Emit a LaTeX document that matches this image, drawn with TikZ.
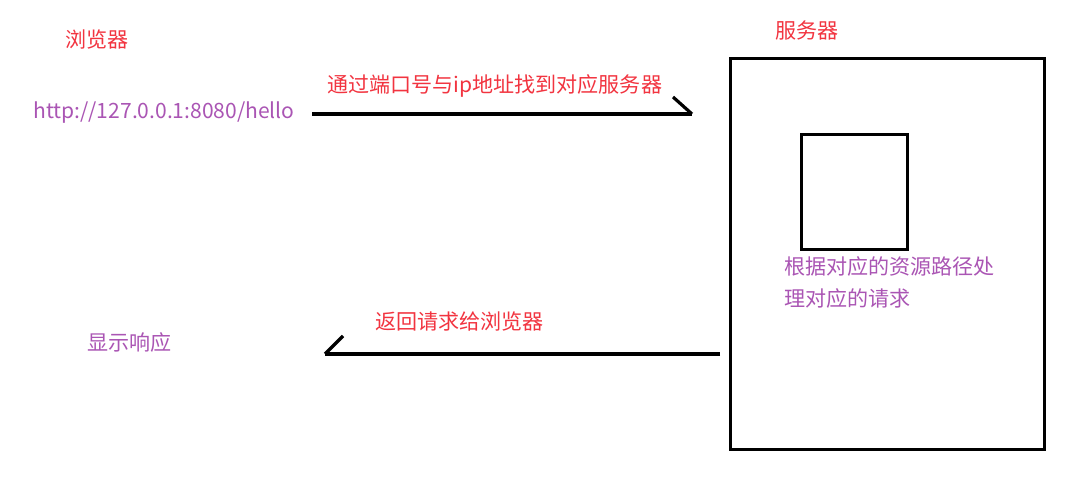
\documentclass[tikz,border=0pt]{standalone}
\usepackage{fontspec}
\setmainfont{Noto Sans CJK SC}
\definecolor{lblred}{RGB}{242,52,64}
\definecolor{lblpurple}{RGB}{170,85,180}
\begin{document}
\begin{tikzpicture}[x=0.75pt,y=-0.75pt,
  redlbl/.style={text=lblred,font=\fontsize{15.8pt}{18pt}\selectfont,inner sep=0pt,anchor=west},
  purplbl/.style={text=lblpurple,font=\fontsize{15.8pt}{18pt}\selectfont,inner sep=0pt,anchor=west},
  urllbl/.style={text=lblpurple,font=\fontsize{15.8pt}{18pt}\selectfont,inner sep=0pt,anchor=west},
  thick line/.style={line width=2.4pt,line cap=butt},
  boxline/.style={draw=black,line width=2.4pt,inner sep=0pt,anchor=north west}]
\useasboundingbox[fill=white] (0,0) rectangle (1085,503);
% labels
\node[redlbl] (browser) at (65,40) {浏览器};
\node[urllbl] (url) at (33,113) {http://127.0.0.1:8080/hello};
\node[redlbl] (req) at (327,86) {通过端口号与ip地址找到对应服务器};
\node[redlbl] (server) at (775,30) {服务器};
\node[redlbl] (resp) at (375,322) {返回请求给浏览器};
\node[purplbl] (show) at (87,342) {显示响应};
% boxes
\node[boxline,minimum width=235.5pt,minimum height=293.25pt] (outer) at (729,57) {};
\node[boxline,minimum width=79.5pt,minimum height=86.25pt] (inner) at (800,133) {};
\node[purplbl,align=left,anchor=north west,font=\fontsize{15.8pt}{24.5pt}\selectfont] (proc) at (784,256) {根据对应的资源路径处\\理对应的请求};
% arrow 1
\coordinate (a1s) at (312,114);
\coordinate (a1e) at (692,114);
\coordinate (a1h) at (673,97);
\draw[thick line] (a1s) -- (a1e);
\draw[thick line] (a1h) -- (a1e);
% arrow 2
\coordinate (a2s) at (720,354);
\coordinate (a2e) at (325,354);
\coordinate (a2h) at (343,336);
\draw[thick line] (a2s) -- (a2e);
\draw[thick line] (a2h) -- (a2e);
\end{tikzpicture}
\end{document}
